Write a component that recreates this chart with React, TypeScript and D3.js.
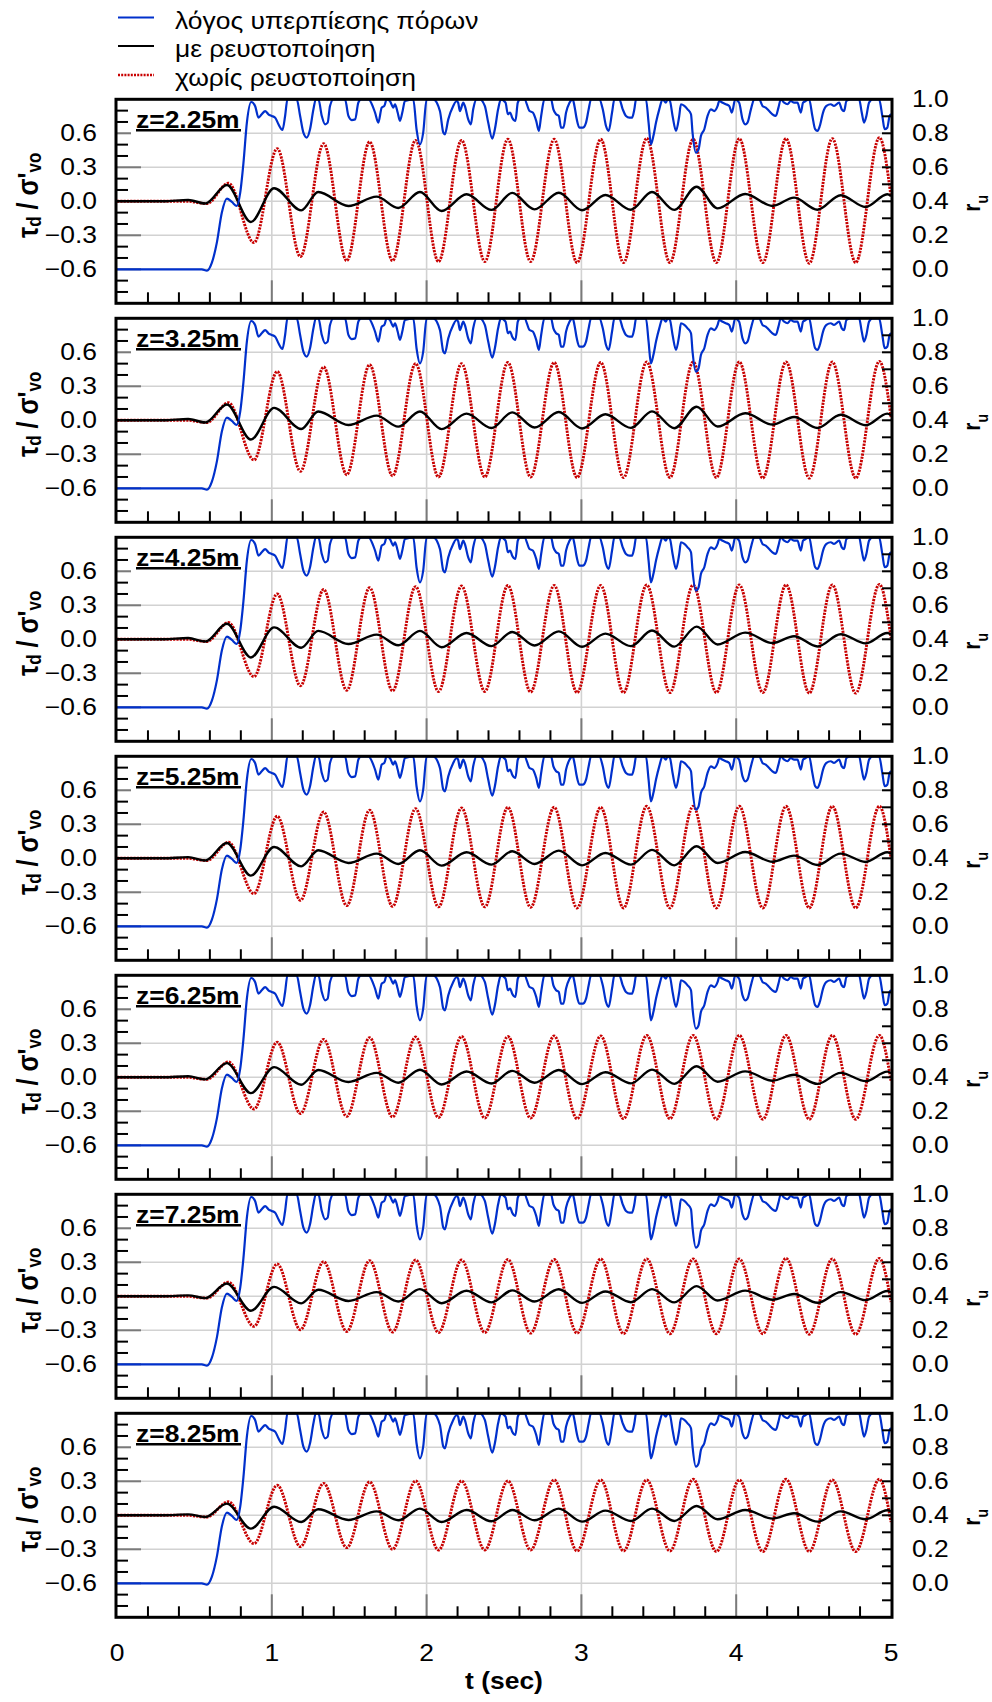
import * as d3 from "d3";

// ---- data ----
const depthLabels = ["z=2.25m", "z=3.25m", "z=4.25m", "z=5.25m", "z=6.25m", "z=7.25m", "z=8.25m"];
const legendLabels = ["λόγος υπερπίεσης πόρων", "με ρευστοποίηση", "χωρίς ρευστοποίηση"];
const tauTicks = [-0.6, -0.3, 0, 0.3, 0.6];
const ruTicks = [0, 0.2, 0.4, 0.6, 0.8, 1.0];
const timeTicks = [0, 1, 2, 3, 4, 5];

// "without liquefaction" (red dotted): extremum times, shared by all depths
const redTimes = [0, 0.45, 0.58, 0.72, 0.885, 1.035, 1.185, 1.335, 1.484, 1.632, 1.78, 1.929, 2.077, 2.226, 2.376, 2.525, 2.672, 2.824, 2.972, 3.125, 3.272, 3.422, 3.572, 3.722, 3.872, 4.02, 4.172, 4.322, 4.472, 4.621, 4.772, 4.925, 5.0];
const redZ225 = [0, 0, -0.02, 0.16, -0.365, 0.465, -0.488, 0.509, -0.524, 0.524, -0.524, 0.538, -0.532, 0.538, -0.532, 0.547, -0.532, 0.547, -0.541, 0.547, -0.541, 0.556, -0.541, 0.547, -0.541, 0.553, -0.541, 0.553, -0.547, 0.553, -0.541, 0.562, 0.04];
const redZ325 = [0, 0, -0.02, 0.155, -0.35, 0.43, -0.45, 0.47, -0.48, 0.49, -0.49, 0.5, -0.5, 0.5, -0.5, 0.51, -0.5, 0.51, -0.505, 0.51, -0.505, 0.515, -0.505, 0.515, -0.505, 0.515, -0.51, 0.515, -0.51, 0.515, -0.51, 0.52, 0.03];
const redZ425 = [0, 0, -0.02, 0.148, -0.33, 0.4, -0.41, 0.44, -0.45, 0.455, -0.455, 0.465, -0.46, 0.47, -0.46, 0.475, -0.465, 0.475, -0.47, 0.475, -0.47, 0.48, -0.47, 0.48, -0.47, 0.48, -0.47, 0.48, -0.475, 0.48, -0.475, 0.485, 0.01];
const redZ525 = [0, 0, -0.02, 0.141, -0.312, 0.371, -0.371, 0.409, -0.418, 0.424, -0.424, 0.438, -0.429, 0.444, -0.429, 0.45, -0.432, 0.45, -0.438, 0.45, -0.438, 0.459, -0.438, 0.459, -0.438, 0.459, -0.438, 0.459, -0.438, 0.459, -0.438, 0.459, 0.0];
const redZ625 = [0, 0, -0.018, 0.135, -0.28, 0.31, -0.32, 0.335, -0.345, 0.35, -0.35, 0.355, -0.355, 0.36, -0.36, 0.36, -0.36, 0.365, -0.365, 0.365, -0.365, 0.37, -0.365, 0.37, -0.37, 0.37, -0.37, 0.37, -0.37, 0.37, -0.37, 0.37, -0.03];
const redZ725 = [0, 0, -0.016, 0.125, -0.265, 0.285, -0.295, 0.305, -0.31, 0.315, -0.315, 0.32, -0.32, 0.32, -0.32, 0.325, -0.325, 0.325, -0.325, 0.33, -0.33, 0.33, -0.33, 0.33, -0.33, 0.33, -0.33, 0.335, -0.335, 0.33, -0.335, 0.335, -0.05];
const redZ825 = [0, 0, -0.015, 0.12, -0.25, 0.265, -0.276, 0.282, -0.285, 0.294, -0.3, 0.303, -0.306, 0.303, -0.306, 0.303, -0.306, 0.312, -0.315, 0.312, -0.315, 0.312, -0.315, 0.318, -0.32, 0.312, -0.32, 0.318, -0.32, 0.312, -0.32, 0.318, -0.06];

// "with liquefaction" (black): extremum times, shared by all depths
const blackTimes = [0, 0.3, 0.46, 0.57, 0.71, 0.865, 1.015, 1.19, 1.3, 1.495, 1.677, 1.817, 1.957, 2.097, 2.258, 2.419, 2.553, 2.697, 2.854, 3.004, 3.155, 3.32, 3.456, 3.6, 3.744, 3.88, 4.058, 4.234, 4.374, 4.525, 4.675, 4.836, 4.976, 5.0];
const blackZ225 = [0, 0, 0.012, -0.02, 0.144, -0.182, 0.115, -0.08, 0.082, -0.041, 0.041, -0.059, 0.082, -0.085, 0.062, -0.076, 0.074, -0.071, 0.076, -0.079, 0.056, -0.074, 0.082, -0.076, 0.129, -0.062, 0.065, -0.041, 0.032, -0.074, 0.053, -0.05, 0.062, 0.047];
const blackZ325 = [0, 0, 0.012, -0.02, 0.14, -0.17, 0.11, -0.077, 0.078, -0.041, 0.041, -0.056, 0.078, -0.078, 0.059, -0.068, 0.07, -0.064, 0.073, -0.072, 0.053, -0.067, 0.079, -0.07, 0.12, -0.055, 0.062, -0.037, 0.029, -0.068, 0.049, -0.044, 0.059, 0.045];
const blackZ425 = [0, 0, 0.011, -0.02, 0.137, -0.16, 0.105, -0.074, 0.074, -0.041, 0.041, -0.053, 0.074, -0.07, 0.056, -0.06, 0.065, -0.055, 0.07, -0.066, 0.05, -0.06, 0.077, -0.065, 0.112, -0.046, 0.059, -0.033, 0.027, -0.063, 0.045, -0.036, 0.056, 0.042];
const blackZ525 = [0, 0, 0.01, -0.02, 0.135, -0.153, 0.1, -0.071, 0.071, -0.041, 0.041, -0.05, 0.071, -0.065, 0.053, -0.056, 0.062, -0.05, 0.068, -0.062, 0.047, -0.056, 0.074, -0.062, 0.106, -0.041, 0.056, -0.03, 0.024, -0.059, 0.041, -0.032, 0.053, 0.04];
const blackZ625 = [0, 0, 0.009, -0.018, 0.125, -0.14, 0.09, -0.066, 0.065, -0.041, 0.039, -0.048, 0.067, -0.063, 0.051, -0.055, 0.057, -0.048, 0.065, -0.06, 0.045, -0.054, 0.068, -0.058, 0.097, -0.039, 0.052, -0.03, 0.022, -0.058, 0.039, -0.034, 0.05, 0.038];
const blackZ725 = [0, 0, 0.008, -0.016, 0.113, -0.128, 0.083, -0.062, 0.058, -0.041, 0.037, -0.046, 0.063, -0.061, 0.049, -0.054, 0.052, -0.046, 0.062, -0.058, 0.043, -0.052, 0.063, -0.054, 0.09, -0.037, 0.05, -0.03, 0.02, -0.057, 0.037, -0.034, 0.047, 0.036];
const blackZ825 = [0, 0, 0.008, -0.015, 0.103, -0.118, 0.076, -0.059, 0.053, -0.041, 0.035, -0.044, 0.059, -0.059, 0.047, -0.053, 0.047, -0.044, 0.059, -0.056, 0.041, -0.05, 0.059, -0.05, 0.082, -0.035, 0.047, -0.029, 0.018, -0.056, 0.035, -0.035, 0.044, 0.035];

// pore pressure ratio r_u (blue), [t, r_u]; the same trace shows in every panel
const ruPoints: [number, number][] = [
  [0, 0], [0.548, 0], [0.581, -0.008], [0.613, 0.039], [0.645, 0.157], [0.677, 0.333], [0.71, 0.416],
  [0.742, 0.396], [0.774, 0.373], [0.796, 0.451], [0.817, 0.627], [0.839, 0.863], [0.867, 0.984],
  [0.892, 0.961], [0.914, 0.892], [0.935, 0.912], [0.957, 0.931], [0.978, 0.912], [1.0, 0.902],
  [1.022, 0.892], [1.043, 0.853], [1.069, 0.82], [1.086, 0.902], [1.101, 1.0], [1.161, 1.0],
  [1.183, 0.902], [1.204, 0.804], [1.226, 0.775], [1.247, 0.824], [1.269, 0.941], [1.284, 1.0],
  [1.301, 1.0], [1.323, 0.902], [1.344, 0.853], [1.361, 0.863], [1.376, 0.961], [1.398, 1.0],
  [1.473, 1.0], [1.495, 0.902], [1.516, 0.878], [1.538, 0.882], [1.559, 0.98], [1.576, 1.0],
  [1.624, 1.0], [1.667, 0.922], [1.688, 0.863], [1.71, 0.951], [1.727, 0.961], [1.742, 1.0],
  [1.763, 0.99], [1.785, 0.951], [1.796, 0.971], [1.813, 0.922], [1.828, 0.873], [1.843, 0.922],
  [1.86, 0.99], [1.914, 1.0], [1.935, 0.824], [1.957, 0.735], [1.978, 0.804], [2.0, 1.0],
  [2.043, 1.0], [2.086, 0.931], [2.108, 0.804], [2.118, 0.794], [2.14, 0.882], [2.172, 0.961],
  [2.194, 0.99], [2.204, 0.98], [2.215, 0.931], [2.237, 0.98], [2.247, 0.961], [2.269, 0.882],
  [2.286, 0.853], [2.301, 0.941], [2.323, 1.0], [2.344, 1.0], [2.376, 0.961], [2.398, 0.863],
  [2.424, 0.769], [2.441, 0.824], [2.462, 0.941], [2.48, 1.0], [2.51, 0.98], [2.525, 0.912],
  [2.54, 0.922], [2.553, 0.892], [2.574, 0.873], [2.589, 0.98], [2.604, 1.0], [2.632, 1.0],
  [2.665, 0.931], [2.686, 0.922], [2.708, 0.873], [2.725, 0.814], [2.74, 0.902], [2.761, 1.0],
  [2.804, 1.0], [2.819, 0.941], [2.837, 0.912], [2.854, 0.902], [2.869, 0.833], [2.884, 0.833],
  [2.901, 0.922], [2.923, 0.98], [2.944, 1.0], [2.955, 0.961], [2.97, 0.882], [2.987, 0.833],
  [3.009, 0.833], [3.03, 0.863], [3.047, 0.941], [3.062, 1.0], [3.116, 1.0], [3.138, 0.941],
  [3.159, 0.843], [3.176, 0.814], [3.198, 0.922], [3.213, 1.0], [3.245, 1.0], [3.267, 0.941],
  [3.288, 0.902], [3.31, 0.892], [3.327, 0.892], [3.342, 0.941], [3.353, 1.0], [3.417, 1.0],
  [3.434, 0.863], [3.449, 0.735], [3.465, 0.784], [3.482, 0.863], [3.503, 0.941], [3.525, 1.0],
  [3.546, 0.98], [3.557, 1.0], [3.572, 0.99], [3.589, 0.902], [3.611, 0.814], [3.632, 0.902],
  [3.643, 0.971], [3.665, 0.961], [3.686, 0.941], [3.708, 0.912], [3.718, 0.804], [3.74, 0.686],
  [3.757, 0.706], [3.772, 0.784], [3.794, 0.824], [3.815, 0.902], [3.837, 0.941], [3.858, 0.931],
  [3.88, 0.961], [3.89, 0.99], [3.912, 0.98], [3.933, 0.971], [3.955, 0.961], [3.972, 0.922],
  [3.994, 1.0], [4.019, 0.98], [4.041, 0.882], [4.058, 0.853], [4.073, 0.863], [4.095, 0.941],
  [4.116, 1.0], [4.148, 1.0], [4.17, 0.961], [4.191, 0.951], [4.213, 0.931], [4.234, 0.912],
  [4.256, 0.902], [4.273, 0.951], [4.288, 1.0], [4.31, 0.98], [4.331, 0.971], [4.353, 0.99],
  [4.374, 0.98], [4.396, 0.98], [4.417, 0.922], [4.432, 0.98], [4.449, 0.99], [4.471, 1.0],
  [4.492, 0.902], [4.51, 0.824], [4.525, 0.814], [4.54, 0.843], [4.561, 0.922], [4.583, 0.961],
  [4.611, 0.971], [4.632, 0.961], [4.665, 0.98], [4.682, 0.941], [4.697, 0.931], [4.712, 0.99],
  [4.74, 1.0], [4.794, 1.0], [4.811, 0.922], [4.826, 0.863], [4.841, 0.902], [4.858, 0.98],
  [4.88, 1.0], [4.923, 1.0], [4.944, 0.902], [4.959, 0.824], [4.976, 0.833], [4.991, 0.902],
  [5.0, 0.912],
];

const redSeries = [redZ225, redZ325, redZ425, redZ525, redZ625, redZ725, redZ825];
const blackSeries = [blackZ225, blackZ325, blackZ425, blackZ525, blackZ625, blackZ725, blackZ825];

// ---- layout ----
const W = 992;
const H = 1702;
const FONT = "'Liberation Sans', Arial, Helvetica, sans-serif";
const SX = 1.15; // the original figure is slightly stretched sideways
const BLUE = "#0030cc";
const RED = "#c80000";
const GRID = "#d2d2d2";
const frameL = 116;
const frameR = 892;
const panelH = 204;
const panelTop = (i: number) => 99.3 + 219 * i;

const x = d3.scaleLinear().domain([0, 5]).range([117, 891]);

function Txt({ x: px, y: py, anchor = "start", size = 23, weight = "normal", children }: any) {
  return (
    <text
      transform={`translate(${px},${py}) scale(${SX},1)`}
      textAnchor={anchor}
      fontSize={size}
      fontWeight={weight}
      fontFamily={FONT}
      fill="#000"
    >
      {children}
    </text>
  );
}

function Panel({ index }: { index: number }) {
  const top = panelTop(index);
  const bottom = top + panelH;
  const y = d3.scaleLinear().domain([-0.9, 0.9]).range([bottom, top]);
  const yr = d3.scaleLinear().domain([-0.2, 1.0]).range([bottom, top]);

  const tauLine = (times: number[]) =>
    d3.line<number>()
      .x((_, i) => x(times[i]))
      .y(d => y(d))
      .curve(d3.curveMonotoneX);
  const ruLine = d3.line<[number, number]>()
    .x(d => x(d[0]))
    .y(d => yr(d[1]))
    .curve(d3.curveMonotoneX);

  const clipId = `clip-${index}`;
  const minorTau = d3.range(-8, 9).filter(i => i % 3 !== 0).map(i => i / 10);
  const rightTicks = d3.range(-1, 10).map(i => i / 10);
  const bottomTicks = d3.range(1, 25).map(i => i / 5);
  const center = (top + bottom) / 2;

  return (
    <g>
      <defs>
        <clipPath id={clipId}>
          <rect x={frameL} y={top} width={frameR - frameL} height={panelH} />
        </clipPath>
      </defs>

      {/* gridlines */}
      {tauTicks.map(v => (
        <line key={`gh${v}`} x1={frameL} x2={frameR} y1={y(v)} y2={y(v)} stroke={GRID} strokeWidth={1.6} />
      ))}
      {[1, 2, 3, 4].map(t => (
        <line key={`gv${t}`} x1={x(t)} x2={x(t)} y1={top} y2={bottom} stroke={GRID} strokeWidth={1.6} />
      ))}

      {/* major ticks (grey) */}
      {tauTicks.map(v => (
        <line key={`mt${v}`} x1={frameL} x2={frameL + 25} y1={y(v)} y2={y(v)} stroke="#7a7a7a" strokeWidth={2} />
      ))}
      {[1, 2, 3, 4].map(t => (
        <line key={`mb${t}`} x1={x(t)} x2={x(t)} y1={bottom} y2={bottom - 23} stroke="#7a7a7a" strokeWidth={2} />
      ))}

      {/* series */}
      <g clipPath={`url(#${clipId})`}>
        <path
          d={tauLine(redTimes)(redSeries[index]) || ""}
          fill="none"
          stroke={RED}
          strokeWidth={2.9}
          strokeDasharray="2.2 1.1"
        />
        <path d={tauLine(blackTimes)(blackSeries[index]) || ""} fill="none" stroke="#000" strokeWidth={2.4} />
        <path d={ruLine(ruPoints) || ""} fill="none" stroke={BLUE} strokeWidth={2.2} />
      </g>

      {/* minor ticks */}
      {minorTau.map(v => (
        <line key={`lt${v}`} x1={frameL} x2={frameL + 12} y1={y(v)} y2={y(v)} stroke="#000" strokeWidth={2} />
      ))}
      {rightTicks.map(v => (
        <line key={`rt${v}`} x1={frameR} x2={frameR - 10} y1={yr(v)} y2={yr(v)} stroke="#000" strokeWidth={2} />
      ))}
      {bottomTicks.filter(t => Math.abs(t - Math.round(t)) > 1e-6).map(t => (
        <line key={`bt${t}`} x1={x(t)} x2={x(t)} y1={bottom} y2={bottom - 11} stroke="#000" strokeWidth={2} />
      ))}

      {/* frame */}
      <rect x={frameL} y={top} width={frameR - frameL} height={panelH} fill="none" stroke="#000" strokeWidth={3} />

      {/* depth label */}
      <rect x={131} y={top + 4} width={112} height={32} fill="#fff" />
      <Txt x={136} y={top + 28.4} weight="bold">{depthLabels[index]}</Txt>
      <line x1={136} x2={241} y1={top + 31} y2={top + 31} stroke="#000" strokeWidth={2.6} />

      {/* tick labels */}
      {tauTicks.map(v => (
        <Txt key={`tl${v}`} x={97} y={y(v) + 8} anchor="end">{d3.format(".1f")(v)}</Txt>
      ))}
      {ruTicks.map(v => (
        <Txt key={`rl${v}`} x={912} y={yr(v) + 8}>{d3.format(".1f")(v)}</Txt>
      ))}

      {/* axis titles */}
      <text
        transform={`translate(37.5,${center - 6}) scale(${SX},1) rotate(-90)`}
        textAnchor="middle"
        fontFamily={FONT}
        fontWeight="bold"
        fontSize={25}
      >
        <tspan>τ</tspan>
        <tspan fontSize={17} dy={3}>d</tspan>
        <tspan dy={-3}> / σ'</tspan>
        <tspan fontSize={17} dy={3}>vo</tspan>
      </text>
      <text
        transform={`translate(980,${center + 2}) scale(${SX},1) rotate(-90)`}
        textAnchor="middle"
        fontFamily={FONT}
        fontWeight="bold"
        fontSize={21}
      >
        <tspan>r</tspan>
        <tspan fontSize={14} dy={7}>u</tspan>
      </text>
    </g>
  );
}

export default function App() {
  const lastBottom = panelTop(depthLabels.length - 1) + panelH;
  const legendY = [17.5, 46, 75];
  return (
    <div style={{ position: "absolute", left: 0, top: 0 }}>
      <svg width={W} height={H} style={{ display: "block", background: "#fff" }}>
        {/* legend */}
        <line x1={118} x2={154} y1={legendY[0]} y2={legendY[0]} stroke={BLUE} strokeWidth={2} />
        <line x1={118} x2={154} y1={legendY[1]} y2={legendY[1]} stroke="#000" strokeWidth={2} />
        <line x1={118} x2={154} y1={legendY[2]} y2={legendY[2]} stroke={RED} strokeWidth={2.6} strokeDasharray="2 1.2" />
        {legendLabels.map((s, i) => (
          <Txt key={s} x={175} y={legendY[i] + 11}>{s}</Txt>
        ))}

        {depthLabels.map((_, i) => (
          <Panel key={i} index={i} />
        ))}

        {timeTicks.map(t => (
          <Txt key={`xt${t}`} x={x(t)} y={lastBottom + 44} anchor="middle">{t}</Txt>
        ))}
        <Txt x={x(2.5)} y={lastBottom + 72} anchor="middle" weight="bold">t (sec)</Txt>
      </svg>
    </div>
  );
}
